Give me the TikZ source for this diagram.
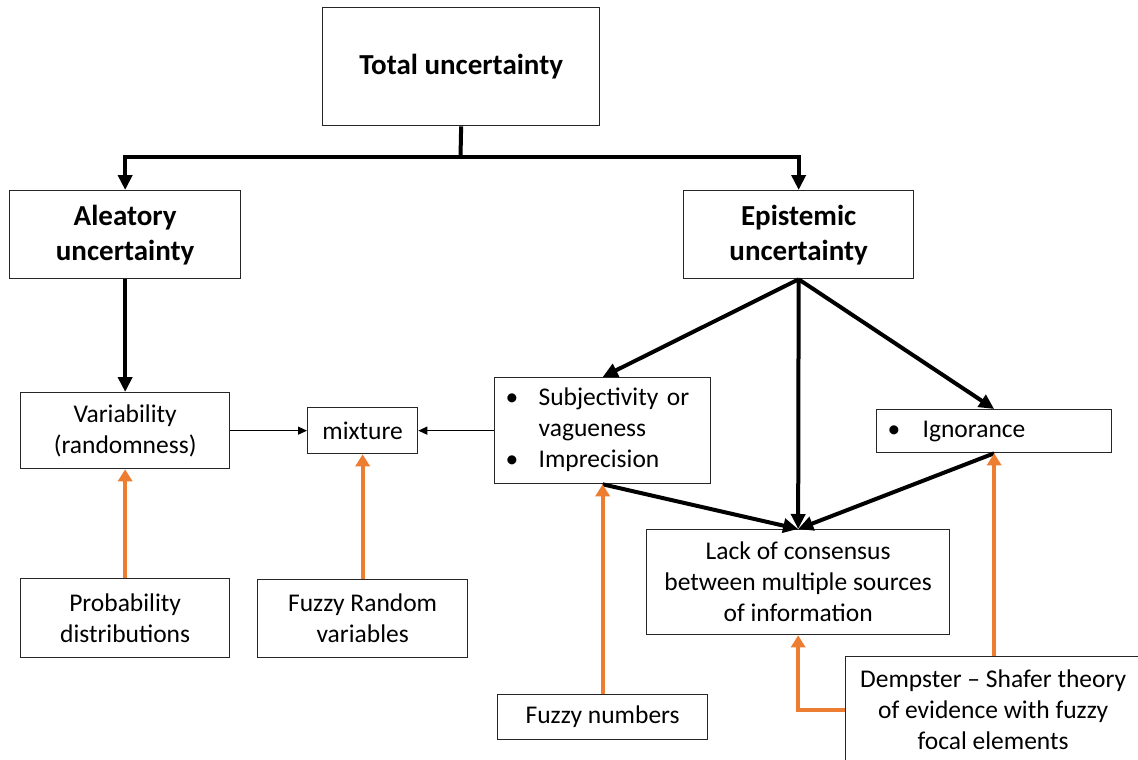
\documentclass[tikz,border=0pt]{standalone}
\usepackage{fontspec}
\setmainfont{Carlito}
\usetikzlibrary{arrows.meta}
\definecolor{accentorange}{RGB}{237,125,49}
\begin{document}
\begin{tikzpicture}[x=1pt,y=-1pt,
  box/.style={draw=black!85, line width=1.3pt, fill=white, inner sep=0pt,
    align=center, anchor=north west, font=\fontsize{25.5}{31}\selectfont},
  headbox/.style={box, font=\fontsize{29}{35}\selectfont\bfseries},
  listbox/.style={box, align=left},
  thickarrow/.style={line width=4pt, -{Triangle[length=15pt,width=14pt]}},
  thinarrow/.style={line width=1.2pt, -{Triangle[length=9pt,width=8pt]}},
  orangearrow/.style={draw=accentorange, color=accentorange, line width=4pt,
    -{Triangle[length=12pt,width=14pt]}},
]
\fill[white] (0,0) rectangle (1138,760);
\useasboundingbox (0,0) rectangle (1138,760);
\clip (0,0) rectangle (1138,760);

% top level
\node[headbox, minimum width=277pt, minimum height=118pt] (total) at (322,7) {Total uncertainty};

% two kinds of uncertainty
\node[headbox, minimum width=231pt, minimum height=88pt] (alea) at (9,190) {Aleatory\\uncertainty};
\node[headbox, minimum width=230pt, minimum height=88pt] (epi) at (683,190) {Epistemic\\uncertainty};

% sources
\node[box, minimum width=209pt, minimum height=76pt] (var) at (20,392) {Variability\\(randomness)};
\node[box, minimum width=110pt, minimum height=46pt] (mix) at (307,407) {mixture};
\node[listbox, text width=216pt, minimum height=106pt] (subj) at (494,377)
  {\begin{tabular}{@{\hspace{11pt}}p{33pt}@{}l@{}}•&Subjectivity or\\&vagueness\\•&Imprecision\end{tabular}};
\node[listbox, text width=235pt, minimum height=43pt] (ign) at (876,409)
  {\begin{tabular}{@{\hspace{11pt}}p{35pt}@{}l@{}}•&Ignorance\end{tabular}};
\node[box, minimum width=303pt, minimum height=105pt] (lack) at (646,529)
  {Lack of consensus\\between multiple sources\\of information};

% theories
\node[box, minimum width=209pt, minimum height=79pt] (prob) at (20,578) {Probability\\distributions};
\node[box, minimum width=210pt, minimum height=78pt] (fzr) at (257,579) {Fuzzy Random\\variables};
\node[box, minimum width=210pt, minimum height=45pt] (fzn) at (497,694) {Fuzzy numbers};
\node[box, minimum width=295pt, minimum height=106pt] (ds) at (845,656)
  {Dempster -- Shafer theory\\of evidence with fuzzy\\focal elements};

% hierarchy
\coordinate (split) at (460.5,157);
\draw[line width=4pt] (total.south) -- (split);
\draw[thickarrow] (split) -| (alea.north);
\draw[thickarrow] (split) -| (epi.north);
\draw[thickarrow] (alea.south) -- (var.north);
\draw[thickarrow] (epi.south) -- (subj.north);
\draw[thickarrow] (epi.south) -- (lack.north);
\draw[thickarrow] (epi.south) -- (ign.north);
\draw[thickarrow] (subj.south) -- (lack.north);
\draw[thickarrow] (ign.south) -- (lack.north);

% mixture
\draw[thinarrow] (var.east) -- (mix.west);
\draw[thinarrow] (subj.west) -- (mix.east);

% modelling theories
\draw[orangearrow] (prob.north) -- (var.south);
\draw[orangearrow] (fzr.north) -- (mix.south);
\draw[orangearrow] (fzn.north) -- (subj.south);
\draw[orangearrow] (ign.south |- ds.north) -- (ign.south);
\draw[orangearrow] (ds.west) -| (lack.south);
\end{tikzpicture}
\end{document}
